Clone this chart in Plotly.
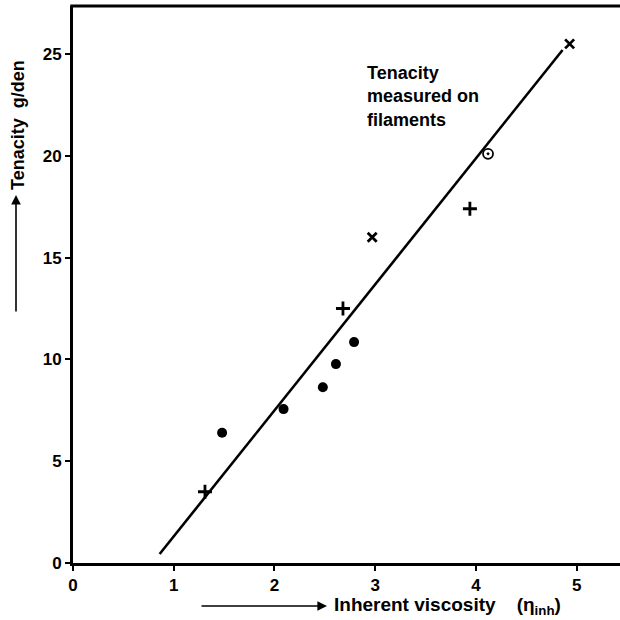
import plotly.graph_objects as go

# data
filled_x = [1.48, 2.09, 2.48, 2.61, 2.79]
filled_y = [6.4, 7.56, 8.63, 9.77, 10.85]
plus_x = [1.31, 2.68, 3.94]
plus_y = [3.5, 12.5, 17.4]
cross_x = [2.97, 4.93]
cross_y = [16.0, 25.5]
dot_x = [4.12]
dot_y = [20.1]
fit_x = [0.86, 4.86]
fit_y = [0.44, 25.2]
xticks = [0, 1, 2, 3, 4, 5]
yticks = [0, 5, 10, 15, 20, 25]

FONT = "Liberation Sans"
fig = go.Figure()
fig.add_trace(go.Scatter(x=fit_x, y=fit_y, mode="lines",
                         line=dict(color="black", width=2.6), showlegend=False))
fig.add_trace(go.Scatter(x=filled_x, y=filled_y, mode="markers",
                         marker=dict(symbol="circle", size=10, color="black"), showlegend=False))
fig.add_trace(go.Scatter(x=plus_x, y=plus_y, mode="markers",
                         marker=dict(symbol="cross-thin", size=10,
                                     line=dict(color="black", width=2.8)), showlegend=False))
fig.add_trace(go.Scatter(x=cross_x, y=cross_y, mode="markers",
                         marker=dict(symbol="x-thin", size=9,
                                     line=dict(color="black", width=2.8)), showlegend=False))
fig.add_trace(go.Scatter(x=dot_x, y=dot_y, mode="markers",
                         marker=dict(symbol="circle-open-dot", size=10, color="black",
                                     line=dict(color="black", width=1.8)), showlegend=False))

axis_common = dict(showgrid=False, zeroline=False, showline=True, linecolor="black",
                   linewidth=3, ticks="outside", ticklen=5, tickwidth=2, tickcolor="black",
                   tickfont=dict(family=FONT, size=17, color="black", weight="bold"))
fig.update_xaxes(range=[0, 5.43], tickvals=xticks,
                 ticktext=["<b>%d</b>" % v for v in xticks], ticklabelstandoff=0,
                 **axis_common)
fig.update_yaxes(range=[0, 27.36], tickvals=yticks,
                 ticktext=["<b>%d</b>" % v for v in yticks],
                 ticklabelstandoff=0, **axis_common)

# top border
fig.add_shape(type="line", xref="paper", yref="paper", x0=-0.005, x1=1, y0=1, y1=1,
              line=dict(color="black", width=3))

anns = []
anns.append(dict(xref="x", yref="y", x=2.9, y=22.9, xanchor="left", yanchor="middle",
                 text="<b>Tenacity</b><br><b>measured on</b><br><b>filaments</b>",
                 showarrow=False, align="left",
                 font=dict(family=FONT, size=18, color="black")))
# x axis title arrow + text
anns.append(dict(xref="paper", yref="paper", x=(327 - 73) / 547, y=-43 / 557,
                 ax=-127, ay=0, text="", showarrow=True, arrowhead=2, arrowsize=1.2,
                 arrowwidth=1.6, arrowcolor="black"))
anns.append(dict(xref="paper", yref="paper", x=(332 - 73) / 547, y=-43 / 557,
                 xanchor="left", yanchor="middle", showarrow=False,
                 text="<b>Inherent viscosity    (η<sub>inh</sub>)</b>",
                 font=dict(family=FONT, size=19, color="black")))
# y axis title arrow + text
anns.append(dict(xref="paper", yref="paper", x=(16 - 73) / 547, y=(563 - 195) / 557,
                 ax=0, ay=118, text="", showarrow=True, arrowhead=2, arrowsize=1.2,
                 arrowwidth=1.6, arrowcolor="black"))
anns.append(dict(xref="paper", yref="paper", x=(18 - 73) / 547, y=(563 - 192) / 557,
                 xanchor="center", yanchor="bottom", showarrow=False, textangle=-90,
                 text="<b>Tenacity  g/den</b>",
                 font=dict(family=FONT, size=18, color="black")))

fig.update_layout(width=620, height=620, margin=dict(l=73, r=0, t=6, b=57),
                  plot_bgcolor="white", paper_bgcolor="white", annotations=anns)
fig.write_html("out.html")
